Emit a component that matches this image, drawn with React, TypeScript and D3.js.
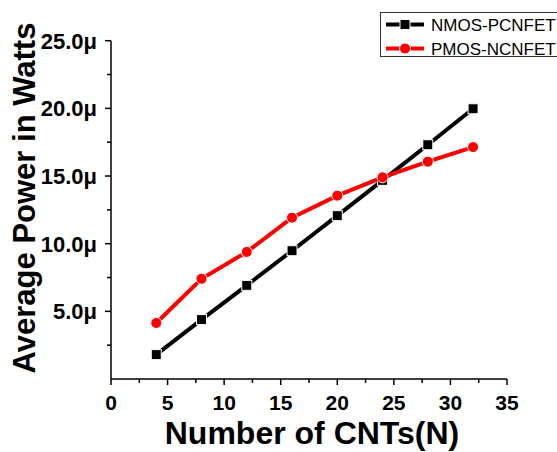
import React, { useEffect, useRef } from 'react';
import * as d3 from 'd3';

// number of CNTs
const cnts = [4, 8, 12, 16, 20, 24, 28, 32];
// average power in microwatts
const nmosPcnfet = [1.8, 4.39, 6.92, 9.48, 12.07, 14.68, 17.31, 19.97];
const pmosNcnfet = [4.14, 7.41, 9.39, 11.92, 13.55, 14.9, 16.06, 17.14];

const xTicks = [0, 5, 10, 15, 20, 25, 30, 35];
const yTicks = [5, 10, 15, 20, 25];

const seriesNames = ['NMOS-PCNFET', 'PMOS-NCNFET'];
const seriesColors = ['#000000', '#ff0000'];

const FONT = 'Arial, "Liberation Sans", sans-serif';

export default function App() {
  const ref = useRef<SVGSVGElement>(null);

  useEffect(() => {
    const svg = d3.select(ref.current);
    svg.selectAll('*').remove();

    const left = 111, right = 507, top = 40.7, bottom = 379;

    const x = d3.scaleLinear().domain([0, 35]).range([left, right]);
    const y = d3.scaleLinear().domain([0, 25]).range([bottom, top]);

    // x axis
    const xAxis = svg.append('g').attr('transform', `translate(0,${bottom})`);
    xAxis.append('line').attr('x1', left).attr('x2', right).attr('stroke', '#000').attr('stroke-width', 1.5);
    xAxis.selectAll('.major').data(xTicks).join('line')
      .attr('x1', d => x(d)).attr('x2', d => x(d)).attr('y1', 0).attr('y2', 6)
      .attr('stroke', '#000').attr('stroke-width', 1.5);
    xAxis.selectAll('.minor').data(xTicks.slice(0, -1).map(d => d + 2.5)).join('line')
      .attr('x1', d => x(d)).attr('x2', d => x(d)).attr('y1', 0).attr('y2', 4)
      .attr('stroke', '#000').attr('stroke-width', 1.5);
    xAxis.selectAll('text').data(xTicks).join('text')
      .attr('x', d => x(d)).attr('y', 31)
      .attr('text-anchor', 'middle')
      .style('font-family', FONT).style('font-weight', 'bold').style('font-size', '21px')
      .text(d => d);

    // y axis
    const yAxis = svg.append('g').attr('transform', `translate(${left},0)`);
    yAxis.append('line').attr('y1', top).attr('y2', bottom).attr('stroke', '#000').attr('stroke-width', 1.5);
    yAxis.selectAll('.major').data(yTicks).join('line')
      .attr('y1', d => y(d)).attr('y2', d => y(d)).attr('x1', 0).attr('x2', -6)
      .attr('stroke', '#000').attr('stroke-width', 1.5);
    yAxis.selectAll('.minor').data([0, ...yTicks.slice(0, -1)].map(d => d + 2.5)).join('line')
      .attr('y1', d => y(d)).attr('y2', d => y(d)).attr('x1', 0).attr('x2', -4)
      .attr('stroke', '#000').attr('stroke-width', 1.5);
    yAxis.selectAll('text').data(yTicks).join('text')
      .attr('x', -14).attr('y', d => y(d) + 8)
      .attr('text-anchor', 'end')
      .style('font-family', FONT).style('font-weight', 'bold').style('font-size', '22px')
      .text(d => d.toFixed(1) + 'μ');

    // titles
    svg.append('text')
      .attr('transform', 'translate(35,198) rotate(-90)')
      .attr('text-anchor', 'middle')
      .style('font-family', FONT).style('font-weight', 'bold').style('font-size', '31px')
      .text('Average Power in Watts');
    svg.append('text')
      .attr('x', 312).attr('y', 444)
      .attr('text-anchor', 'middle')
      .style('font-family', FONT).style('font-weight', 'bold').style('font-size', '32px')
      .text('Number of CNTs(N)');

    const line = d3.line<number>().x((d, i) => x(cnts[i])).y(d => y(d));

    const drawMarker = (g: any, cx: number, cy: number, i: number) => {
      if (i === 0) {
        g.append('rect').attr('x', cx - 5).attr('y', cy - 5).attr('width', 10).attr('height', 10)
          .attr('fill', seriesColors[0]).attr('stroke', '#fff').attr('stroke-width', 1);
      } else {
        g.append('circle').attr('cx', cx).attr('cy', cy).attr('r', 5.5)
          .attr('fill', seriesColors[1]).attr('stroke', '#fff').attr('stroke-width', 1);
      }
    };

    [nmosPcnfet, pmosNcnfet].forEach((vals, i) => {
      const g = svg.append('g');
      g.append('path').attr('d', line(vals))
        .attr('fill', 'none').attr('stroke', seriesColors[i]).attr('stroke-width', 4);
      vals.forEach((v, j) => drawMarker(g, x(cnts[j]), y(v), i));
    });

    // legend
    const lg = svg.append('g');
    lg.append('rect').attr('x', 380.5).attr('y', 12.5).attr('width', 185).attr('height', 44)
      .attr('fill', '#fff').attr('stroke', '#333').attr('stroke-width', 1);
    seriesNames.forEach((name, i) => {
      const cy = 24.5 + i * 24;
      lg.append('line').attr('x1', 386).attr('x2', 424).attr('y1', cy).attr('y2', cy)
        .attr('stroke', seriesColors[i]).attr('stroke-width', 4);
      drawMarker(lg, 405, cy, i);
      lg.append('text').attr('x', 431).attr('y', cy + 6)
        .style('font-family', FONT).style('font-size', '17px')
        .text(name);
    });
  }, []);

  return (
    <svg ref={ref} width={557} height={452}
      style={{ position: 'absolute', left: 0, top: 0, background: '#fff' }} />
  );
}
